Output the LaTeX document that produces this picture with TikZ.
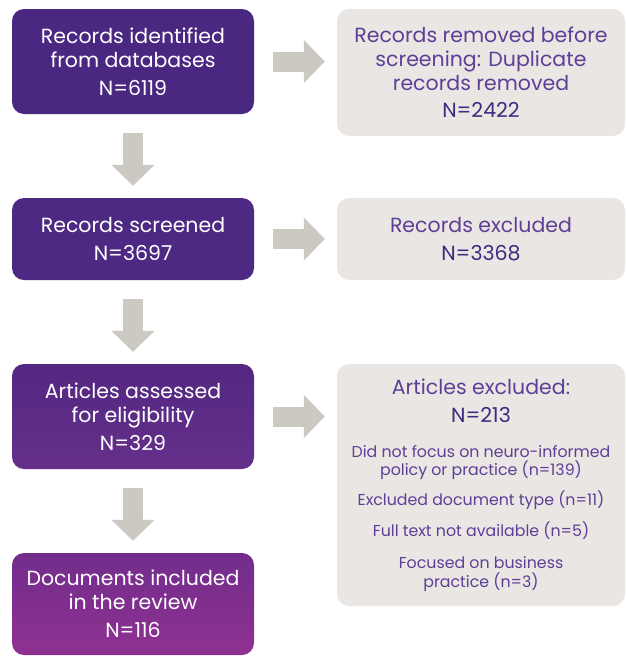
\documentclass[tikz,border=0pt]{standalone}
\usepackage{fontspec}
\setmainfont{Poppins}
\usetikzlibrary{arrows.meta}
\definecolor{boxgrey}{HTML}{EAE6E3}
\definecolor{arrowgrey}{HTML}{CCC8C2}
\definecolor{labelpurple}{HTML}{5E3F98}
\definecolor{countpurple}{HTML}{3F2A80}
\definecolor{stageA}{HTML}{4A2882}
\definecolor{stageB}{HTML}{4D2983}
\definecolor{stageC}{HTML}{532882}
\definecolor{stageD}{HTML}{652F8A}
\definecolor{stageE}{HTML}{722D8B}
\definecolor{stageF}{HTML}{8E3191}
\newcommand{\bigtext}{\fontsize{20.5}{24}\selectfont}
\newcommand{\smalltext}{\fontsize{15.8}{19}\selectfont}
\newcommand{\tally}[1]{\textcolor{countpurple}{#1}}

\begin{document}
\begin{tikzpicture}[x=1pt, y=-1pt,
  stagebox/.style={rectangle, rounded corners=12pt, minimum width=242pt,
    inner sep=0pt, text=white, align=center, font=\bigtext},
  outbox/.style={rectangle, rounded corners=12pt, fill=boxgrey, minimum width=288pt,
    inner sep=0pt, text=labelpurple, align=center, font=\bigtext},
  flow/.style={draw=arrowgrey, line width=20pt, -{Triangle[length=21pt, width=42pt]},
    shorten <=19pt, shorten >=12pt}]
  \useasboundingbox (0,0) rectangle (625,657);

  % main stages (left column)
  \node (ident) [stagebox, minimum height=105pt, top color=stageA, bottom color=stageA!95!stageB] at (133,61.5)
    {Records identified\\from databases\\[4pt]N=6119};
  \node (screened) [stagebox, minimum height=82pt, top color=stageB, bottom color=stageB!80!stageC] at (133,239)
    {Records screened\\[4pt]N=3697};
  \node (assessed) [stagebox, minimum height=105pt, top color=stageC, bottom color=stageD] at (133,416.5)
    {Articles assessed\\for eligibility\\[4pt]N=329};
  \node (included) [stagebox, minimum height=102pt, top color=stageE, bottom color=stageF] at (133,604)
    {Documents included\\in the review\\[4pt]N=116};

  % exclusions (right column)
  \node (removed) [outbox, minimum height=127pt] at (481,72.5)
    {Records removed before\\screening: Duplicate\\records removed\\[3pt]\tally{N=2422}};
  \node (recexcl) [outbox, minimum height=82pt] at (481,239)
    {Records excluded\\[4pt]\tally{N=3368}};
  \node (artexcl) [outbox, minimum height=242pt] at (481,485)
    {Articles excluded:\\[4pt]\tally{N=213}\\[11pt]
     \smalltext Did not focus on neuro-informed\\[-6pt]\smalltext policy or practice (n=139)\\[6pt]
     \smalltext Excluded document type (n=11)\\[7pt]
     \smalltext Full text not available (n=5)\\[8pt]
     \smalltext Focused on business\\[-5pt]\smalltext practice (n=3)};

  % block arrows
  \draw[flow] (ident) -- (screened);
  \draw[flow] (screened) -- (assessed);
  \draw[flow] (assessed) -- (included);
  \draw[flow] (ident) -- (ident -| removed.west);
  \draw[flow] (screened) -- (recexcl);
  \draw[flow] (assessed) -- (assessed -| artexcl.west);
\end{tikzpicture}
\end{document}
